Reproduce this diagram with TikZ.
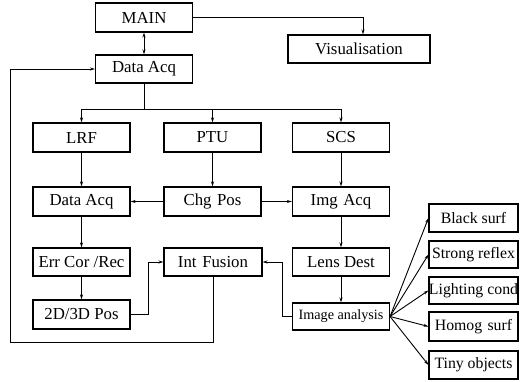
\documentclass[tikz,border=0pt]{standalone}
\usepackage{fontspec}
\setmainfont{Liberation Serif}
\usetikzlibrary{arrows.meta}
\begin{document}
\begin{tikzpicture}
[x=1pt,y=-1pt,line width=0.9pt,
box/.style={draw,line width=1.1pt,minimum width=97pt,minimum height=29pt,
inner sep=1pt,font=\fontsize{16.8}{19}\selectfont},
side/.style={box,minimum width=89pt,minimum height=28pt,inner sep=0pt,font=\fontsize{15.8}{18}\selectfont},
arr/.style={-{Stealth[length=5pt,width=3pt]}}]
\useasboundingbox (0,0) rectangle (520,381);
\node[box] (main) at (144,17.5) {MAIN};
\node[box,minimum width=142pt,minimum height=28pt] (vis) at (359,49) {Visualisation};
\node[box,minimum height=28pt] (acq) at (144,69) {Data Acq};
\node[box] (lrf) at (81.5,137.5) {LRF};
\node[box] (ptu) at (212.5,137.5) {PTU};
\node[box] (scs) at (341,137.5) {SCS};
\node[box] (dacq) at (81.5,201.5) {Data Acq};
\node[box] (chg) at (212.5,201.5) {Chg\,\,Pos};
\node[box] (img) at (341,201.5) {Img\,\,Acq};
\node[box,minimum height=28pt,inner sep=0pt] (err) at (81.5,262) {Err Cor /Rec};
\node[box,minimum width=98pt,minimum height=28pt] (fus) at (213,262) {Int\,\,Fusion};
\node[box,minimum height=28pt] (lens) at (341,262) {Lens Dest};
\node[box] (pos) at (81.5,314.5) {2D/3D Pos};
\node[box,minimum height=27pt,font=\fontsize{14.2}{17}\selectfont] (ana) at (341,316.5) {Image analysis};
\node[side] (blk) at (473.5,218) {Black surf};
\node[side,minimum height=27pt] (ref) at (473.5,254.5) {Strong reflex};
\node[side,minimum height=27pt] (lit) at (473.5,290.5) {Lighting cond};
\node[side,minimum height=29pt] (hom) at (473.5,326.5) {Homog\,\,surf};
\node[side] (tiny) at (473.5,365) {Tiny objects};
% top part
\coordinate (visin) at (363,17);
\draw[arr] (main.east |- visin) -- (visin) -- (visin |- vis.north);
\draw[{Stealth[length=5pt,width=3pt]}-{Stealth[length=5pt,width=3pt]}] (main) -- (acq);
\coordinate (split) at (144,109);
\foreach \n in {lrf,ptu,scs}
\draw[arr] (acq.south) -- (split) -| (\n.north);
% columns
\draw[arr] (lrf) -- (dacq);
\draw[arr] (ptu) -- (chg);
\draw[arr] (scs) -- (img);
\draw[arr] (chg) -- (dacq);
\draw[arr] (chg) -- (img);
\draw[arr] (dacq) -- (err);
\draw[arr] (err) -- (pos);
\draw[arr] (img) -- (lens);
\draw[arr] (lens) -- (ana);
% fusion
\draw[arr] (pos.east) -- ++(18,0) |- (fus.west);
\draw[arr] (ana.west) -- ++(-10,0) |- (fus.east);
\coordinate (back) at (10,342);
\draw[arr] (fus.south) |- (back) |- (acq.west);
\foreach \n in {blk,ref,lit,hom,tiny}
\draw[arr] (ana.east) -- (\n.west);
\end{tikzpicture}
\end{document}
